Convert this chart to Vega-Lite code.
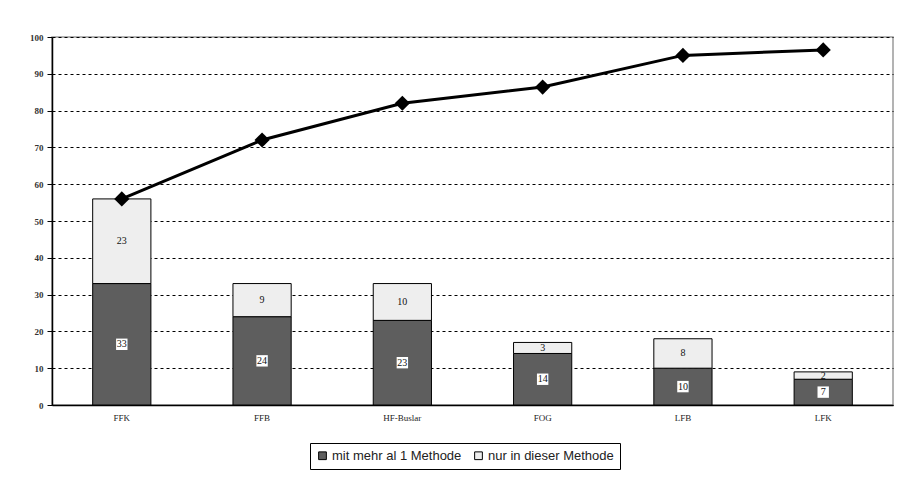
{
  "$schema": "https://vega.github.io/schema/vega-lite/v6.json",
  "width": 841,
  "height": 368,
  "autosize": "none",
  "padding": {"left": 52, "top": 37, "right": 16, "bottom": 83},
  "background": "white",
  "config": {
    "view": {"stroke": "#9a9a9a", "strokeWidth": 1.5},
    "font": "Liberation Serif",
    "axisY": {
      "values": [0, 10, 20, 30, 40, 50, 60, 70, 80, 90, 100],
      "labelOverlap": false,
      "grid": true,
      "gridColor": "black",
      "gridDash": [3, 3],
      "gridWidth": 1,
      "domainColor": "black",
      "domainWidth": 1.5,
      "tickColor": "black",
      "tickSize": 5,
      "labelFont": "Liberation Serif",
      "labelFontSize": 9,
      "labelFontWeight": "bold",
      "labelColor": "#333",
      "labelPadding": 4
    }
  },
  "datasets": {
    "counts": [
      {"kat": "FFK", "gruppe": "mit mehr al 1 Methode", "anzahl": 33},
      {"kat": "FFK", "gruppe": "nur in dieser Methode", "anzahl": 23},
      {"kat": "FFB", "gruppe": "mit mehr al 1 Methode", "anzahl": 24},
      {"kat": "FFB", "gruppe": "nur in dieser Methode", "anzahl": 9},
      {"kat": "HF-Buslar", "gruppe": "mit mehr al 1 Methode", "anzahl": 23},
      {"kat": "HF-Buslar", "gruppe": "nur in dieser Methode", "anzahl": 10},
      {"kat": "FOG", "gruppe": "mit mehr al 1 Methode", "anzahl": 14},
      {"kat": "FOG", "gruppe": "nur in dieser Methode", "anzahl": 3},
      {"kat": "LFB", "gruppe": "mit mehr al 1 Methode", "anzahl": 10},
      {"kat": "LFB", "gruppe": "nur in dieser Methode", "anzahl": 8},
      {"kat": "LFK", "gruppe": "mit mehr al 1 Methode", "anzahl": 7},
      {"kat": "LFK", "gruppe": "nur in dieser Methode", "anzahl": 2}
    ],
    "kumuliert": [
      {"kat": "FFK", "wert": 56},
      {"kat": "FFB", "wert": 72},
      {"kat": "HF-Buslar", "wert": 82},
      {"kat": "FOG", "wert": 86.4},
      {"kat": "LFB", "wert": 95},
      {"kat": "LFK", "wert": 96.5}
    ]
  },
  "encoding": {
    "x": {
      "field": "kat",
      "type": "nominal",
      "sort": null,
      "scale": {"paddingInner": 0.585, "paddingOuter": 0.29},
      "axis": {
        "title": null,
        "labelAngle": 0,
        "labelFont": "Liberation Serif",
        "labelFontSize": 9,
        "labelColor": "#222",
        "labelPadding": 8,
        "ticks": false,
        "domainColor": "black",
        "domainWidth": 1.5
      }
    }
  },
  "layer": [
    {
      "data": {"name": "counts"},
      "transform": [
        {"stack": "anzahl", "groupby": ["kat"], "sort": [{"field": "gruppe"}], "as": ["von", "bis"]},
        {"calculate": "(datum.von + datum.bis) / 2", "as": "mitte"}
      ],
      "layer": [
        {
          "mark": {"type": "bar", "stroke": "black", "strokeWidth": 1},
          "encoding": {
            "y": {
              "field": "von",
              "type": "quantitative",
              "scale": {"domain": [0, 100], "nice": false},
              "axis": {"title": null}
            },
            "y2": {"field": "bis"},
            "color": {
              "field": "gruppe",
              "type": "nominal",
              "scale": {
                "domain": ["mit mehr al 1 Methode", "nur in dieser Methode"],
                "range": ["#5e5e5e", "#eeeeee"]
              },
              "legend": {
                "title": null,
                "orient": "none",
                "legendX": 258,
                "legendY": 406,
                "direction": "horizontal",
                "columns": 2,
                "symbolType": "square",
                "symbolSize": 60,
                "symbolStrokeColor": "black",
                "symbolStrokeWidth": 1,
                "labelFont": "Liberation Sans",
                "labelFontSize": 13,
                "labelColor": "#222",
                "labelOffset": 3,
                "columnPadding": 10,
                "strokeColor": "black",
                "padding": 6
              }
            }
          }
        },
        {
          "transform": [{"filter": "datum.gruppe === 'mit mehr al 1 Methode'"}],
          "mark": {"type": "point", "shape": "square", "filled": true, "color": "white", "size": 130, "opacity": 1},
          "encoding": {
            "y": {"field": "mitte", "type": "quantitative"}
          }
        },
        {
          "mark": {"type": "text", "font": "Liberation Serif", "fontSize": 10, "color": "#111", "baseline": "middle"},
          "encoding": {
            "y": {"field": "mitte", "type": "quantitative"},
            "text": {"field": "anzahl", "type": "quantitative"}
          }
        }
      ]
    },
    {
      "data": {"name": "kumuliert"},
      "mark": {
        "type": "line",
        "color": "black",
        "strokeWidth": 3,
        "point": {"shape": "diamond", "filled": true, "color": "black", "size": 230}
      },
      "encoding": {
        "y": {"field": "wert", "type": "quantitative"}
      }
    }
  ]
}
